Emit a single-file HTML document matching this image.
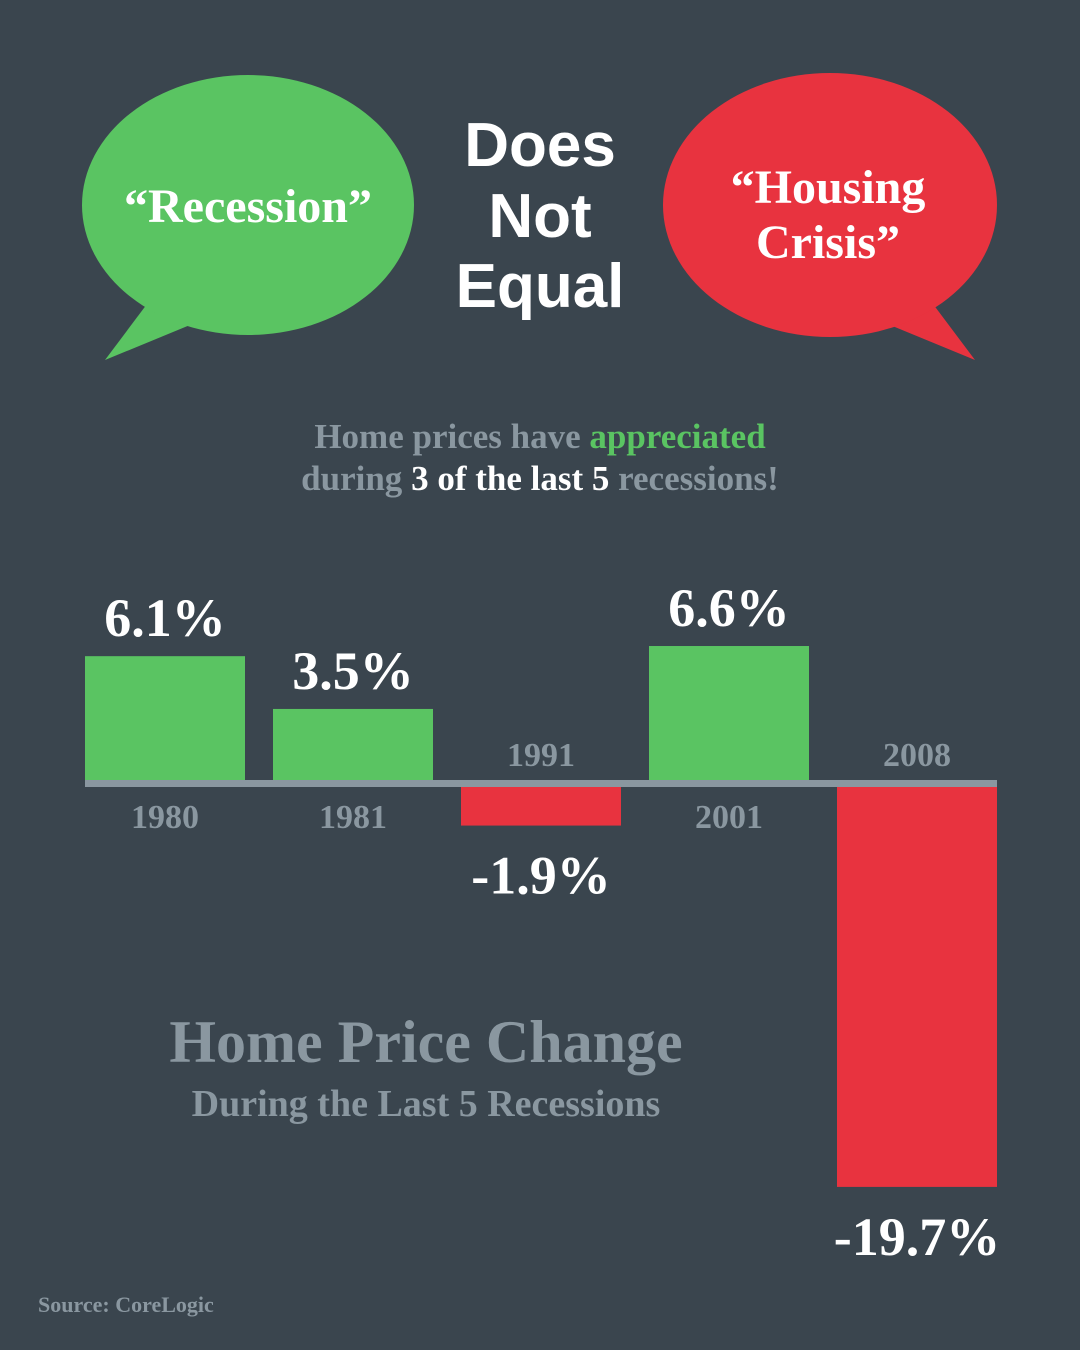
<!DOCTYPE html>
<html><head><meta charset="utf-8"><style>
body{margin:0;background:#3a454e;}
svg{display:block}
</style></head><body>
<svg id="chart" width="1080" height="1350" viewBox="0 0 1080 1350" xmlns="http://www.w3.org/2000/svg" font-family="'Liberation Serif', serif" font-weight="bold">
<rect width="1080" height="1350" fill="#3a454e"/>
<g>
<path d="M150 300 L105 360 L190 325 Z" fill="#5ac462"/>
<ellipse cx="248" cy="205" rx="166" ry="130" fill="#5ac462"/>
<text x="248" y="222" text-anchor="middle" font-size="48" fill="#fff">“Recession”</text>
</g>
<g>
<path d="M930 300 L975 360 L890 325 Z" fill="#e8333f"/>
<ellipse cx="830" cy="205" rx="167" ry="132" fill="#e8333f"/>
<text x="828" y="203" text-anchor="middle" font-size="48" fill="#fff">“Housing</text>
<text x="828" y="258" text-anchor="middle" font-size="48" fill="#fff">Crisis”</text>
</g>
<g font-family="'Liberation Sans', sans-serif" fill="#fff" text-anchor="middle" font-size="62">
<text x="540" y="166">Does</text>
<text x="540" y="237">Not</text>
<text x="540" y="307">Equal</text>
</g>
<g text-anchor="middle" font-size="35" fill="#8a97a0">
<text x="540" y="448">Home prices have <tspan fill="#5ac462">appreciated</tspan></text>
<text x="540" y="490">during <tspan fill="#fff">3 of the last 5</tspan> recessions!</text>
</g>
<g id="bars"></g>
<rect x="85" y="780" width="912" height="7" fill="#8a97a0"/>
<g fill="#8a97a0" text-anchor="middle">
<text x="426" y="1062" font-size="60">Home Price Change</text>
<text x="426" y="1116" font-size="38">During the Last 5 Recessions</text>
</g>
<text x="38" y="1312" font-size="22" fill="#8a97a0">Source: CoreLogic</text>
</svg>
<script>
const categories = ["1980","1981","1991","2001","2008"];
const values = [6.1, 3.5, -1.9, 6.6, -19.7];
const valueLabels = ["6.1%","3.5%","-1.9%","6.6%","-19.7%"];
const NS="http://www.w3.org/2000/svg";
const g=document.getElementById('bars');
const x0=85, step=188, bw=160, scale=20.3, posBase=780, negBase=787;
function xPos(i){return x0+i*step;}
function yLen(v){return Math.abs(v)*scale;}
function mk(t,a){const e=document.createElementNS(NS,t);for(const k in a)e.setAttribute(k,a[k]);return e;}
categories.forEach((c,i)=>{
  const v=values[i], x=xPos(i), h=yLen(v), pos=v>=0;
  const r=mk('rect',{x:x,width:bw,y:pos?posBase-h:negBase,height:h,fill:pos?'#5ac462':'#e8333f'});
  
  
  g.appendChild(r);
  const cx=x+bw/2;
  const yl=mk('text',{x:cx,y:pos?828:766,'text-anchor':'middle','font-size':34,fill:'#8a97a0'});
  yl.textContent=c;
  
  
  g.appendChild(yl);
  const vl=mk('text',{x:cx,y:pos?posBase-h-20:negBase+h+68,'text-anchor':'middle','font-size':54,fill:'#fff'});
  vl.textContent=valueLabels[i];
  
  
  g.appendChild(vl);
});
</script>
</body></html>
